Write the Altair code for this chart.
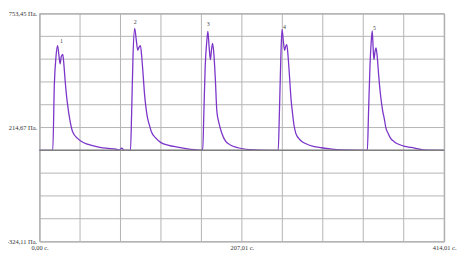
import altair as alt
import pandas as pd

# Signal samples (time in seconds, value in Pa)
time_s = [
    0.0, 13.5, 15.1, 16.8, 18.4, 19.7, 21.0, 22.2, 23.7, 24.6, 26.1, 27.6, 28.9, 30.6, 33.8, 39.4,
    45.3, 53.2, 61.8, 70.0, 78.2, 81.3, 84.1, 86.7, 93.0,
    94.2, 95.6, 97.3, 98.9, 100.5, 101.8, 103.2, 104.5, 106.0, 107.4, 108.7, 110.4, 112.4, 114.4,
    118.3, 124.2, 132.1, 141.0, 149.8, 158.7, 166.9,
    168.1, 169.5, 171.0, 172.2, 173.5, 174.8, 176.0, 177.1, 178.4, 179.9, 181.4, 183.4, 186.3,
    190.3, 195.2, 203.1, 215.9, 224.8, 244.2,
    245.4, 246.9, 248.1, 249.4, 250.7, 251.9, 253.0, 254.3, 255.8, 257.3, 258.8, 260.2, 262.2,
    265.2, 268.1, 272.1, 280.0, 288.5, 297.7, 308.2, 335.4,
    336.6, 338.1, 339.3, 340.4, 341.3, 342.1, 343.2, 344.3, 345.5, 347.0, 349.0, 350.9, 352.9,
    354.2, 356.8, 359.1, 362.8, 367.4, 373.6, 380.5, 387.4, 393.3, 414.0,
]
value_pa = [
    106.9, 106.9, 416.9, 550.3, 602.3, 559.2, 516.1, 550.3, 560.5, 528.1, 439.2, 363.6, 314.7, 261.3, 194.7, 161.3,
    142.6, 130.2, 121.3, 116.4, 112.4, 108.0, 116.9, 106.9, 106.9,
    283.6, 550.3, 683.7, 630.3, 580.1, 594.8, 602.3, 550.3, 461.4, 372.5, 314.7, 261.3, 225.8, 194.7,
    168.0, 143.5, 130.2, 122.2, 115.5, 110.2, 106.9,
    283.6, 505.9, 617.0, 669.0, 594.8, 535.6, 585.9, 612.5, 559.2, 439.2, 292.5, 239.1, 190.2,
    150.2, 132.4, 119.1, 110.2, 108.0, 106.9,
    283.6, 550.3, 679.2, 625.9, 580.1, 599.2, 606.8, 550.3, 452.5, 350.3, 283.6, 230.2, 187.1,
    163.6, 150.2, 139.1, 125.8, 119.1, 113.3, 108.9, 106.9,
    283.6, 505.9, 617.0, 671.7, 594.8, 535.6, 572.5, 591.6, 550.3, 461.4, 363.6, 298.3, 252.5,
    216.9, 185.8, 164.9, 148.0, 135.5, 125.8, 120.4, 113.3, 108.9, 106.9,
]

# Peak number labels
peak_t = [22.4, 97.9, 172.5, 250.7, 342.7]
peak_v = [621.4, 713.4, 705.9, 691.2, 683.7]
peak_lbl = ["1", "2", "3", "4", "5"]

baseline_v = [106.91]

y_min, y_max = -324.11, 753.45
x_min, x_max = 0.0, 414.01
y_grid = [-324.11, -216.35, -108.6, -0.84, 106.91, 214.67, 322.42, 430.18, 537.94, 645.69, 753.45]
x_grid = [0.0, 41.4, 82.8, 124.2, 165.6, 207.005, 248.41, 289.81, 331.21, 372.61, 414.01]
y_lbl_vals = [753.45, 214.67, -324.11]
y_lbl_txt = ["753,45 Па.", "214,67 Па.", "-324,11 Па."]
x_lbl_vals = [0.0, 207.005, 414.01]
x_lbl_txt = ["0,00 с.", "207,01 с.", "414,01 с."]


def label_expr(vals, txts):
    expr = "''"
    for v, t in zip(reversed(vals), reversed(txts)):
        expr = f"abs(datum.value - ({v})) < 1 ? '{t}' : ({expr})"
    return expr


sig = pd.DataFrame({"t": time_s, "v": value_pa})
peaks = pd.DataFrame({"t": peak_t, "v": peak_v, "lbl": peak_lbl})
base = pd.DataFrame({"v": baseline_v})
ygrid_df = pd.DataFrame({"v": y_grid})
xgrid_df = pd.DataFrame({"t": x_grid})

FONT = "Liberation Serif"
GRID = "#b4b4b4"

x_enc = alt.X(
    "t:Q",
    scale=alt.Scale(domain=[x_min, x_max], nice=False, zero=False),
    axis=alt.Axis(
        values=x_lbl_vals, title=None, grid=False,
        ticks=False, domain=False, labelExpr=label_expr(x_lbl_vals, x_lbl_txt),
        labelFont=FONT, labelFontSize=6.5, labelColor="#333333", labelPadding=3,
        labelAlign="center", labelBaseline="top", labelOverlap=False, labelBound=False,
        labelFlush=False,
    ),
)
y_enc = alt.Y(
    "v:Q",
    scale=alt.Scale(domain=[y_min, y_max], nice=False, zero=False),
    axis=alt.Axis(
        values=y_lbl_vals, title=None, grid=False,
        ticks=False, domain=False, labelExpr=label_expr(y_lbl_vals, y_lbl_txt),
        labelFont=FONT, labelFontSize=6.5, labelColor="#333333", labelPadding=3,
        labelAlign="right", labelBaseline="middle", labelOverlap=False, labelBound=False,
        labelFlush=False,
    ),
)

hgrid = alt.Chart(ygrid_df).mark_rule(color=GRID, strokeWidth=1).encode(y=y_enc)
vgrid = alt.Chart(xgrid_df).mark_rule(color=GRID, strokeWidth=1).encode(x=x_enc)

line = alt.Chart(sig).mark_line(
    color="#7b35c9", strokeWidth=1.3, interpolate="monotone"
).encode(x="t:Q", y="v:Q")

rule = alt.Chart(base).mark_rule(color="#808080", strokeWidth=1.5).encode(y="v:Q")

txt = alt.Chart(peaks).mark_text(
    font=FONT, fontSize=6, color="#444444", baseline="middle", align="center"
).encode(x="t:Q", y="v:Q", text="lbl:N")

chart = (
    alt.layer(hgrid, vgrid, line, rule, txt)
    .properties(
        width=410,
        height=231,
        padding={"left": 32, "top": 4, "right": 13, "bottom": 10},
        autosize=alt.AutoSizeParams(type="none"),
        background="white",
    )
    .configure_view(stroke="#999999", strokeWidth=1)
)

chart.save("out.html", embed_options={"renderer": "svg", "actions": False})
